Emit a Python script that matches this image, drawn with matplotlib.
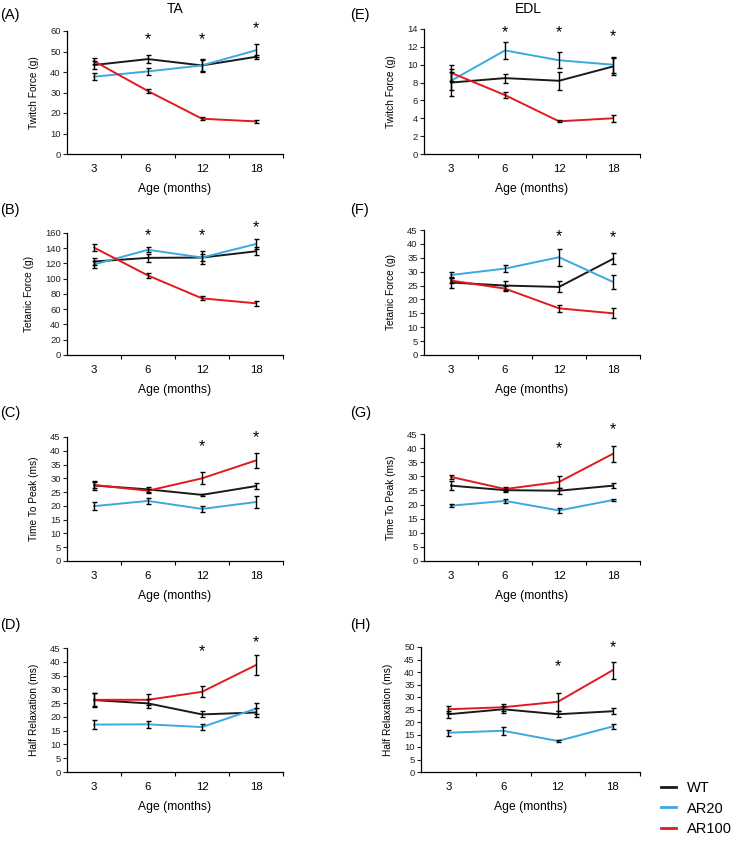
import matplotlib
matplotlib.use('Agg')
import matplotlib.pyplot as plt
from matplotlib.lines import Line2D
import numpy as np

plt.rcParams['font.family'] = ['Liberation Sans', 'DejaVu Sans']

ages = ['3', '6', '12', '18']
groups = ['WT', 'AR20', 'AR100']
colors = ['#1a1a1a', '#3aa9e0', '#e3191f']

# rows: WT, AR20, AR100 ; columns: 3, 6, 12, 18 months
ta_twitch = [[43.4, 46.3, 43.2, 47.4], [37.7, 40.3, 43.2, 50.6], [45.3, 30.7, 17.2, 15.9]]
ta_twitch_err = [[2.0, 1.8, 2.5, 1.0], [1.8, 1.6, 3.0, 3.2], [1.5, 0.8, 0.8, 0.8]]
ta_twitch_sig = [None, 55.8, 55.8, 61.2]

edl_twitch = [[8.0, 8.5, 8.2, 9.8], [8.2, 11.6, 10.5, 10.0], [9.1, 6.6, 3.66, 4.0]]
edl_twitch_err = [[1.5, 0.5, 1.0, 1.0], [1.0, 1.0, 0.9, 0.9], [0.9, 0.35, 0.1, 0.4]]
edl_twitch_sig = [None, 13.55, 13.55, 13.1]

ta_tetanic = [[122.6, 127.4, 127.8, 136.0], [118.7, 138.0, 127.8, 145.6], [140.9, 104.3, 74.3, 67.8]]
ta_tetanic_err = [[5.0, 5.0, 8.0, 5.0], [5.0, 3.5, 5.0, 7.0], [4.5, 3.0, 2.5, 3.5]]
ta_tetanic_sig = [None, 156, 156, 166.5]

edl_tetanic = [[26.1, 25.0, 24.5, 34.6], [28.8, 31.1, 35.2, 26.3], [26.8, 23.9, 16.8, 15.0]]
edl_tetanic_err = [[2.0, 1.5, 2.0, 2.0], [1.0, 1.3, 3.1, 2.4], [1.0, 1.0, 1.2, 1.8]]
edl_tetanic_sig = [None, None, 42.7, 42.4]

ta_ttp = [[27.4, 26.0, 24.0, 27.2], [19.9, 21.8, 18.9, 21.4], [27.6, 25.5, 30.0, 36.5]]
ta_ttp_err = [[1.5, 1.0, 0.3, 1.0], [1.5, 1.2, 1.1, 2.3], [1.0, 0.8, 2.2, 2.8]]
ta_ttp_sig = [None, None, 41.6, 44.9]

edl_ttp = [[26.7, 25.1, 24.9, 26.7], [19.6, 21.3, 17.9, 21.6], [29.8, 25.5, 28.0, 38.0]]
edl_ttp_err = [[1.7, 0.5, 1.0, 1.0], [0.5, 0.8, 0.8, 0.5], [0.8, 0.6, 2.1, 2.9]]
edl_ttp_sig = [None, None, 39.7, 46.4]

ta_half = [[26.1, 24.9, 20.9, 21.6], [17.2, 17.3, 16.3, 23.0], [26.2, 26.2, 29.1, 38.8]]
ta_half_err = [[2.5, 1.5, 1.1, 1.5], [1.5, 1.3, 1.2, 2.0], [2.3, 2.0, 2.0, 3.5]]
ta_half_sig = [None, None, 43.8, 47.0]

edl_half = [[23.1, 25.1, 23.1, 24.3], [15.7, 16.5, 12.4, 18.2], [25.1, 25.9, 28.1, 40.7]]
edl_half_err = [[1.5, 1.5, 1.2, 1.2], [1.3, 1.5, 0.4, 1.0], [1.3, 1.5, 3.5, 3.3]]
edl_half_sig = [None, None, 42.2, 49.6]

W, H = 736, 842
fig = plt.figure(figsize=(W / 100, H / 100), dpi=100)


def px_axes(x0, top, x1, bottom):
    return fig.add_axes([x0 / W, 1 - bottom / H, (x1 - x0) / W, (bottom - top) / H])


def panel(ax, vals, errs, sig, ymax, ystep, ylabel):
    x = np.arange(len(ages))
    for v, e, c in zip(vals, errs, colors):
        ax.plot(x, v, color=c, lw=1.4, zorder=2)
        ax.errorbar(x, v, yerr=e, fmt='none', ecolor='black', elinewidth=1.0,
                    capsize=1.8, capthick=1.0, zorder=3)
    for xi, s in zip(x, sig):
        if s is not None:
            ax.text(xi, s, '*', ha='center', va='center', fontsize=11.5, clip_on=False)
    ax.set_xlim(-0.5, 3.5)
    ax.set_ylim(0, ymax)
    ax.set_yticks(np.arange(0, ymax + ystep / 2, ystep))
    ax.set_xticks(x)
    ax.set_xticklabels(ages)
    ax.set_xticks([0.5, 1.5, 2.5, 3.5], minor=True)
    ax.tick_params(axis='x', which='major', length=0, pad=7, labelsize=8.2)
    ax.tick_params(axis='x', which='minor', length=3, width=0.8, direction='out')
    ax.tick_params(axis='y', length=3, width=0.8, labelsize=6.8, pad=1.5, colors='#222222')
    for sp in ['top', 'right']:
        ax.spines[sp].set_visible(False)
    for sp in ['left', 'bottom']:
        ax.spines[sp].set_linewidth(0.9)
    ax.set_ylabel(ylabel, fontsize=7.3, labelpad=8)
    ax.set_xlabel('Age (months)', fontsize=8.7, labelpad=7)


L0, L1 = 67, 283
R0, R1 = 424, 640

panel(px_axes(L0, 31, L1, 154), ta_twitch, ta_twitch_err, ta_twitch_sig, 60, 10, 'Twitch Force (g)')
panel(px_axes(R0, 29, R1, 154), edl_twitch, edl_twitch_err, edl_twitch_sig, 14, 2, 'Twitch Force (g)')
panel(px_axes(L0, 233, L1, 355), ta_tetanic, ta_tetanic_err, ta_tetanic_sig, 160, 20, 'Tetanic Force (g)')
panel(px_axes(R0, 230, R1, 355), edl_tetanic, edl_tetanic_err, edl_tetanic_sig, 45, 5, 'Tetanic Force (g)')
panel(px_axes(L0, 437, L1, 561), ta_ttp, ta_ttp_err, ta_ttp_sig, 45, 5, 'Time To Peak (ms)')
panel(px_axes(R0, 434, R1, 561), edl_ttp, edl_ttp_err, edl_ttp_sig, 45, 5, 'Time To Peak (ms)')
panel(px_axes(L0, 648, L1, 772), ta_half, ta_half_err, ta_half_sig, 45, 5, 'Half Relaxation (ms)')
panel(px_axes(R0 - 3, 647, R1, 772), edl_half, edl_half_err, edl_half_sig, 50, 5, 'Half Relaxation (ms)')

fig.text(175 / W, 1 - 9 / H, 'TA', ha='center', va='center', fontsize=10)
fig.text(528 / W, 1 - 9 / H, 'EDL', ha='center', va='center', fontsize=10)

for lab, xp, yp in [('(A)', 0, 15), ('(B)', 0, 210), ('(C)', 0, 413), ('(D)', 0, 625),
                    ('(E)', 350, 15), ('(F)', 350, 210), ('(G)', 350, 413), ('(H)', 350, 625)]:
    fig.text(xp / W, 1 - yp / H, lab, ha='left', va='center', fontsize=10.5)

handles = [Line2D([0], [0], color=c, lw=2) for c in colors]
fig.legend(handles, groups, loc='upper left', bbox_to_anchor=(661 / W, 1 - 781 / H),
           frameon=False, fontsize=10.5, handlelength=1.05, handletextpad=0.7,
           labelspacing=0.45, borderpad=0, borderaxespad=0)

fig.savefig('out.png', dpi=100)
